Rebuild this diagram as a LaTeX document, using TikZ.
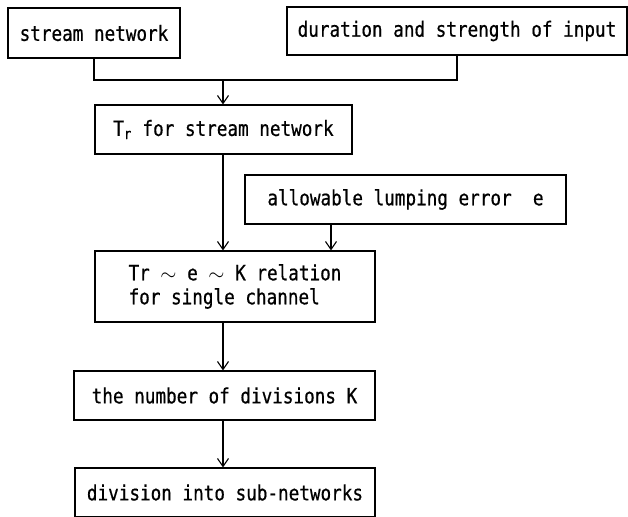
\documentclass[tikz,border=0pt]{standalone}
\usepackage{fontspec}
\usetikzlibrary{arrows.meta}
\newfontfamily\diagfont[FakeStretch=0.84,FakeBold=0.6]{DejaVu Sans Mono}
\tikzset{
  box/.style={draw, line width=1.1pt, inner sep=0pt, minimum height=49pt,
    font=\diagfont\fontsize{21}{24}\selectfont},
  flow/.style={line width=1.1pt},
}
\begin{document}
\begin{tikzpicture}[x=1pt,y=-1pt,flow,>={Straight Barb[length=8pt,width=11pt]}]
   \useasboundingbox (0,0) rectangle (628,516);

   \node[box,minimum width=172pt,minimum height=50pt] (sn)  at (94,33)    {stream network};
   \node[box,minimum width=340pt,minimum height=48pt] (dur) at (457,31)   {duration and strength of input};
   \node[box,minimum width=257pt] (tr)  at (223.5,129.5) {T\textsubscript{r} for stream network};
   \node[box,minimum width=321pt] (err) at (405.5,199.5) {allowable lumping error\ \ e};
   \node[box,minimum width=280pt,minimum height=71pt,align=left] (rel) at (235,286.5)
      {Tr $\sim$ e $\sim$ K relation\\for single channel};
   \node[box,minimum width=301pt] (num) at (224.5,395.5) {the number of divisions K};
   \node[box,minimum width=300pt] (div) at (225,492.5)   {division into sub-networks};
%   \node (bot) at () {};

   \coordinate (j)  at (223,80);
   \coordinate (ea) at (331,0);

   \draw (sn.south) -- (sn.south |- j) -- (dur.south |- j) -- (dur.south);
   \draw[->] (j) -- (tr.north -| j);
   \draw[->] (tr.south -| j) -- (rel.north -| j);
   \draw[->] (err.south -| ea) -- (rel.north -| ea);
   \draw[->] (rel.south -| j) -- (num.north -| j);
   \draw[->] (num.south -| j) -- (div.north -| j);
\end{tikzpicture}
\end{document}
